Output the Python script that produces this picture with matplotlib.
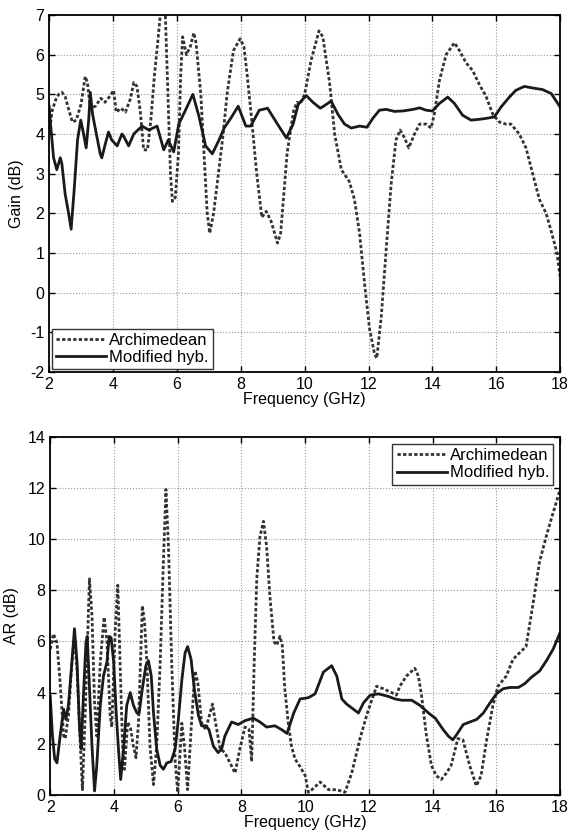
import matplotlib.pyplot as plt

plt.rcParams['font.family'] = ['Liberation Sans', 'DejaVu Sans']
plt.rcParams['axes.unicode_minus'] = False

# Gain (dB) - Archimedean
f_gain_arch = [2.0, 2.1, 2.2, 2.3, 2.4, 2.5, 2.62, 2.73, 2.85, 3.0, 3.13, 3.2, 3.29, 3.45, 3.62,
               3.75, 3.9, 4.02, 4.1, 4.25, 4.39, 4.55, 4.65, 4.75, 4.85, 4.96, 5.08, 5.18, 5.3,
               5.4, 5.48, 5.56, 5.64, 5.72, 5.8, 5.86, 5.95, 6.05, 6.12, 6.18, 6.3, 6.42, 6.53,
               6.6, 6.75, 6.85, 6.95, 7.03, 7.15, 7.3, 7.45, 7.57, 7.77, 7.98, 8.1, 8.2, 8.35,
               8.5, 8.66, 8.8, 8.95, 9.15, 9.25, 9.35, 9.45, 9.56, 9.66, 9.76, 9.86, 10.0, 10.2,
               10.45, 10.57, 10.78, 10.94, 11.15, 11.4, 11.56, 11.72, 11.88, 12.03, 12.19, 12.26,
               12.4, 12.55, 12.71, 12.86, 12.99, 13.13, 13.26, 13.44, 13.6, 13.8, 13.96, 14.06,
               14.22, 14.43, 14.69, 14.85, 15.05, 15.26, 15.47, 15.68, 15.89, 16.1, 16.3, 16.46,
               16.72, 16.93, 17.14, 17.35, 17.56, 17.72, 17.9, 18.0]
gain_arch = [4.0, 4.6, 4.85, 5.0, 5.05, 4.95, 4.6, 4.3, 4.35, 4.75, 5.45, 5.3, 4.65, 4.7, 4.9,
             4.8, 4.95, 5.1, 4.55, 4.65, 4.55, 4.9, 5.3, 5.2, 4.6, 3.6, 3.6, 4.3, 5.5,
             6.3, 7.0, 7.4, 7.0, 5.0, 3.0, 2.3, 2.4, 3.5, 5.5, 6.45, 6.0, 6.2, 6.55,
             6.3, 5.0, 3.5, 2.0, 1.5, 2.0, 3.0, 4.0, 5.0, 6.1, 6.4, 6.2, 5.5, 4.3,
             3.0, 1.9, 2.05, 1.8, 1.25, 1.5, 2.5, 3.5, 4.1, 4.6, 4.8, 4.75, 5.0, 5.85,
             6.6, 6.45, 5.3, 4.0, 3.1, 2.8, 2.35, 1.5, 0.2, -0.9, -1.55, -1.65,
             -0.6, 1.05, 2.75, 3.85, 4.1, 3.9, 3.65, 4.0, 4.25, 4.25, 4.15, 4.5,
             5.35, 6.0, 6.3, 6.1, 5.8, 5.6, 5.25, 4.95, 4.5, 4.3, 4.25, 4.25,
             4.0, 3.65, 3.0, 2.35, 2.0, 1.55, 1.0, 0.4]

# Gain (dB) - Modified hybrid
f_gain_hyb = [2.0, 2.05, 2.14, 2.24, 2.35, 2.4, 2.5, 2.61, 2.69, 2.79, 2.89, 2.99, 3.08, 3.16,
              3.24, 3.29, 3.36, 3.48, 3.6, 3.65, 3.76, 3.86, 3.96, 4.13, 4.28, 4.33, 4.49,
              4.65, 4.91, 5.12, 5.38, 5.59, 5.73, 5.9, 6.06, 6.27, 6.5, 6.69, 6.9, 7.11, 7.32,
              7.48, 7.69, 7.92, 8.16, 8.31, 8.58, 8.84, 9.15, 9.43, 9.64, 9.8, 10.05, 10.26,
              10.49, 10.63, 10.83, 11.04, 11.25, 11.46, 11.72, 11.95, 12.14, 12.34, 12.55,
              12.81, 13.07, 13.39, 13.6, 13.8, 14.0, 14.22, 14.48, 14.69, 14.95, 15.21, 15.47,
              15.73, 15.94, 16.15, 16.41, 16.61, 16.88, 17.14, 17.45, 17.72, 18.0]
gain_hyb = [4.7, 4.2, 3.4, 3.1, 3.4, 3.25, 2.5, 2.0, 1.6, 2.65, 3.85, 4.35, 4.0, 3.65,
            4.35, 5.05, 4.5, 4.0, 3.5, 3.4, 3.75, 4.05, 3.85, 3.7, 4.0, 3.95, 3.7,
            4.0, 4.2, 4.1, 4.2, 3.6, 3.85, 3.55, 4.25, 4.6, 5.0, 4.45, 3.7, 3.5, 3.85,
            4.15, 4.4, 4.7, 4.2, 4.2, 4.6, 4.65, 4.25, 3.9, 4.25, 4.75, 4.97, 4.8,
            4.65, 4.72, 4.83, 4.5, 4.25, 4.15, 4.2, 4.17, 4.4, 4.6, 4.62,
            4.57, 4.58, 4.62, 4.66, 4.6, 4.58, 4.77, 4.93, 4.77, 4.47, 4.35, 4.37,
            4.4, 4.43, 4.68, 4.93, 5.1, 5.2, 5.16, 5.12, 5.02, 4.68]

# AR (dB) - Archimedean
f_ar_arch = [2.0, 2.1, 2.21, 2.31, 2.42, 2.47, 2.57, 2.68, 2.76, 2.84, 2.92, 3.01, 3.08, 3.15,
             3.23, 3.31, 3.39, 3.46, 3.57, 3.69, 3.78, 3.88, 3.93, 4.04, 4.12, 4.19, 4.27,
             4.33, 4.43, 4.52, 4.61, 4.69, 4.77, 4.89, 4.96, 5.03, 5.13, 5.24, 5.34, 5.45,
             5.55, 5.63, 5.71, 5.81, 5.92, 6.0, 6.13, 6.21, 6.31, 6.42, 6.54, 6.63, 6.75,
             6.88, 6.96, 7.09, 7.19, 7.33, 7.48, 7.64, 7.8, 7.95, 8.11, 8.24, 8.32, 8.4,
             8.48, 8.58, 8.69, 8.79, 8.89, 9.02, 9.1, 9.21, 9.28, 9.36, 9.47, 9.57, 9.68,
             9.84, 10.0, 10.1, 10.21, 10.47, 10.73, 10.99, 11.25, 11.46, 11.72, 11.95,
             12.24, 12.45, 12.71, 12.86, 12.97, 13.18, 13.44, 13.55, 13.65, 13.8, 13.96,
             14.11, 14.27, 14.43, 14.58, 14.79, 14.95, 15.16, 15.37, 15.52, 15.68, 15.89,
             16.05, 16.31, 16.52, 16.72, 16.93, 17.14, 17.35, 17.56, 17.77, 18.0]
ar_arch = [5.7, 6.3, 5.95, 4.4, 2.3, 2.2, 3.1, 5.2, 6.2, 4.9, 2.6, 0.2, 2.6, 5.2,
           8.45, 7.0, 3.6, 2.3, 5.2, 6.95, 6.0, 3.1, 2.65, 6.5, 8.2, 5.2, 1.9,
           1.0, 2.85, 2.6, 1.9, 1.45, 2.85, 7.4, 6.75, 5.2, 1.9, 0.4, 1.9, 5.2,
           9.1, 11.95, 9.7, 5.2, 1.3, 0.1, 2.8, 1.9, 0.2, 2.55, 4.85, 4.4, 2.8,
           2.55, 2.95, 3.55, 2.8, 1.8, 1.65, 1.25, 0.85, 1.8, 2.65, 2.55, 1.3, 5.2,
           8.45, 10.1, 10.7, 9.7, 7.8, 6.0, 5.85, 6.2, 5.85, 4.15, 2.8, 1.9, 1.4,
           1.1, 0.75, 0.1, 0.2, 0.5, 0.2, 0.2, 0.1, 0.85, 2.2, 3.2,
           4.25, 4.15, 4.0, 3.9, 4.25, 4.65, 4.95, 4.65, 3.9, 2.35, 1.15,
           0.75, 0.6, 0.85, 1.15, 2.2, 2.15, 1.15, 0.35, 0.75, 2.05, 3.5,
           4.25, 4.65, 5.3, 5.55, 5.8, 7.4, 9.1, 10.1, 11.0, 11.95]

# AR (dB) - Modified hybrid
f_ar_hyb = [2.0, 2.07, 2.14, 2.21, 2.31, 2.42, 2.49, 2.57, 2.68, 2.76, 2.84, 2.92, 2.97, 3.04,
            3.12, 3.16, 3.22, 3.31, 3.39, 3.46, 3.57, 3.67, 3.78, 3.85, 3.91, 3.99, 4.07,
            4.14, 4.21, 4.3, 4.4, 4.51, 4.61, 4.72, 4.79, 4.89, 5.0, 5.08, 5.17, 5.24, 5.34,
            5.45, 5.55, 5.66, 5.79, 5.92, 6.02, 6.13, 6.23, 6.31, 6.42, 6.52, 6.65, 6.75,
            6.88, 6.98, 7.12, 7.27, 7.38, 7.48, 7.69, 7.9, 8.11, 8.37, 8.58, 8.79, 9.05,
            9.26, 9.43, 9.64, 9.84, 10.1, 10.31, 10.57, 10.83, 10.99, 11.15, 11.3, 11.46,
            11.67, 11.83, 12.04, 12.3, 12.61, 12.82, 13.03, 13.34, 13.6, 13.87, 14.08, 14.33,
            14.49, 14.63, 14.75, 14.96, 15.17, 15.38, 15.59, 15.8, 16.0, 16.21, 16.42, 16.69,
            16.89, 17.1, 17.36, 17.57, 17.78, 18.0]
ar_hyb = [3.85, 2.3, 1.4, 1.25, 2.3, 3.35, 2.95, 3.5, 5.2, 6.5, 5.2, 2.6, 1.8, 3.85,
          5.95, 6.2, 4.5, 1.9, 0.15, 1.15, 3.5, 4.65, 5.2, 6.2, 6.15, 5.2, 3.2,
          1.8, 0.6, 1.8, 3.5, 4.0, 3.5, 3.2, 3.2, 4.15, 5.05, 5.25, 4.65, 3.2, 1.8,
          1.15, 1.0, 1.25, 1.3, 1.8, 2.95, 4.5, 5.55, 5.8, 5.3, 4.15, 3.1, 2.7,
          2.7, 2.55, 1.9, 1.65, 1.8, 2.3, 2.85, 2.75, 2.9, 3.0, 2.85, 2.65, 2.7,
          2.55, 2.4, 3.2, 3.75, 3.8, 3.95, 4.8, 5.05, 4.65, 3.75, 3.55, 3.4,
          3.2, 3.6, 3.9, 3.95, 3.85, 3.75, 3.7, 3.7, 3.5, 3.2, 3.0, 2.55,
          2.3, 2.15, 2.35, 2.75, 2.85, 2.95, 3.2, 3.6, 3.95, 4.15, 4.2, 4.2,
          4.35, 4.6, 4.85, 5.25, 5.7, 6.35]

dot_style = dict(color='#333333', lw=2.0, ls=(0, (1.2, 0.8)), label='Archimedean')
sol_style = dict(color='#1a1a1a', lw=2.0, ls='-', label='Modified hyb.')


def style_axes(ax):
    ax.grid(True, ls=':', color='#999999', lw=0.8)
    ax.tick_params(direction='in', top=True, right=True, labelsize=11.5, length=4, width=1)
    for s in ax.spines.values():
        s.set_linewidth(1.3)
    ax.set_xlim(2, 18)
    ax.set_xticks(range(2, 19, 2))
    ax.set_xlabel('Frequency (GHz)', fontsize=11.5, labelpad=0)


fig = plt.figure(figsize=(5.71, 8.34), dpi=100)

ax1 = fig.add_axes([0.086, 0.554, 0.895, 0.428])
ax1.plot(f_gain_arch, gain_arch, **dot_style)
ax1.plot(f_gain_hyb, gain_hyb, **sol_style)
style_axes(ax1)
ax1.set_ylim(-2, 7)
ax1.set_yticks(range(-2, 8))
ax1.set_ylabel('Gain (dB)', fontsize=11.5, labelpad=4)
ax1.legend(loc='lower left', fontsize=12, handlelength=3.0, handletextpad=0.2,
           fancybox=False, edgecolor='#333333', borderpad=0.25, labelspacing=0.15,
           borderaxespad=0.15, framealpha=1)

ax2 = fig.add_axes([0.088, 0.047, 0.893, 0.429])
ax2.plot(f_ar_arch, ar_arch, **dot_style)
ax2.plot(f_ar_hyb, ar_hyb, **sol_style)
style_axes(ax2)
ax2.set_ylim(0, 14)
ax2.set_yticks(range(0, 15, 2))
ax2.set_ylabel('AR (dB)', fontsize=11.5, labelpad=6)
ax2.legend(loc='upper right', fontsize=12, handlelength=3.0, handletextpad=0.2,
           fancybox=False, edgecolor='#333333', borderpad=0.25, labelspacing=0.15,
           borderaxespad=0.4, framealpha=1)

plt.savefig('out.png', dpi=100)
